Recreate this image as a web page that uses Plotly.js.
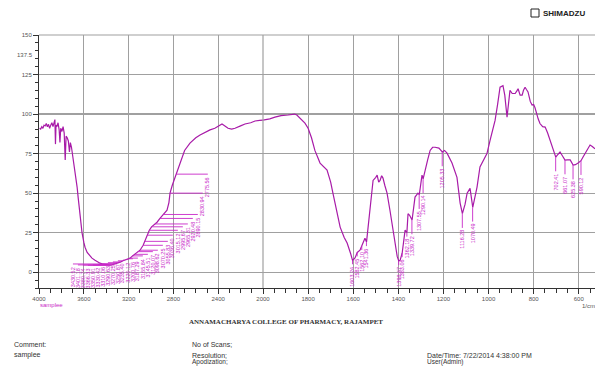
<!DOCTYPE html>
<html><head><meta charset="utf-8">
<script src="https://cdn.plot.ly/plotly-3.0.1.min.js"></script>
<style>html,body{margin:0;padding:0;background:#fff;overflow:hidden}#chart{width:595px;height:366px}</style>
</head><body><div id="chart"></div>
<script>
// ---- spectrum data (wavenumber in 1/cm, %T) ----
const wavenumber = [3995,3985,3975,3965,3955,3945,3935,3925,3915,3905,3895,3885,3875,3865,3858,3853,3848,3840,3830,3820,3813,3806,3795,3785,3775,3766,3758,3748,3738,3728,3720,3710,3700,3690,3680,3670,3660,3650,3640,3630,3616,3600,3589,3570,3550,3527,3500,3480,3455,3430,3400,3380,3366,3350,3330,3310,3290,3270,3250,3235,3220,3200,3187,3165,3145,3120,3098,3070,3055,3036,3015,2995,2965,2946,2920,2890,2857,2840,2830,2810,2790,2775,2760,2741,2700,2652,2600,2562,2520,2473,2430,2402,2366,2340,2312,2280,2250,2200,2161,2110,2071,2030,2000,1970,1947,1920,1889,1860,1850,1836,1814,1800,1785,1770,1747,1716,1700,1690,1675,1658,1640,1627,1612,1603,1592,1582,1570,1562,1548,1541,1525,1512,1500,1494,1487,1481,1474,1468,1460,1450,1437,1425,1415,1405,1398,1392,1383,1370,1362,1357,1350,1339,1326,1313,1307,1295,1290,1282,1270,1259,1248,1237,1220,1205,1195,1184,1162,1140,1126,1116,1104,1095,1082,1070,1060,1051,1038,1020,1007,993,971,960,949,936,928,918,912,905,895,882,875,869,860,851,845,838,832,825,815,807,800,794,780,772,760,749,738,727,715,702,695,683,672,661,650,638,625,615,603,590,581,565,550,540,528];
const transmittance = [91,90.5,92,91,93,92.5,94,92,93.5,91,93,94.5,92,95,96.5,81,93,92,94.5,90,82,91,89,92,88,71,86,85,83,76,82,79,74,71,67,60,54,47,40,33,25,19,15.8,12.5,10.5,8.9,7.5,6.5,5.7,5.2,4.6,4.5,4.4,4.6,5.0,5.4,6.0,6.5,7.2,7.6,8.0,8.5,8.9,10.3,11.3,13.0,13.9,17.0,19.5,23.4,26.5,28.7,30.5,31.6,34.0,36.5,39.2,44,50,55,59,62,65,70,77,81.6,85,86.7,88.5,90,91,92,93.7,92.5,91,90.5,91,92.5,93.7,94.5,95.6,96,96.2,97,98.1,99,99.4,100,99.4,97.5,94.3,91,85,77,69,64.6,57,50,40,28.5,22,18.4,12,7.5,9,12.5,13.9,16.5,21.5,19,39,58,60,61.4,57,58,61,59.5,55,50,39,28,20,10,7,7.6,12,26.6,25,37,36,33,47.5,50,49,61.4,59,64.6,71,77,79,79,78.5,76,77,75.3,69,60,43.7,37,43,50,53,41,48,53.8,66.5,71,75,83.5,96,106,117,118,112,98,108,115,113,113,114.5,116,112,112,115,117,115.5,114,108,105.7,106,104,97,94,92,91.8,88,83.5,78,72.8,74,76,73.5,70.9,71,71,67.7,68,69,70.5,72.8,77,80.4,79.5,78];

// ---- peak picks ----
const densePeakWn = [3430.52,3401.18,3380.74,3366.33,3350.91,3330.42,3310.06,3290.63,3270.25,3250.87,3235.40,3220.12,3200.76,3187.29,3165.84,3145.51,3120.07,3098.62,3070.25,3055.83,3036.40,3015.12,2995.67,2965.31,2920.48,2890.15,2830.94,2775.56];
const densePeakT  = [5.2,4.6,4.5,4.4,4.6,5.0,5.4,6.0,6.5,7.2,7.6,8.0,8.5,8.9,10.3,11.3,13.0,13.9,17.0,19.5,23.4,26.5,28.7,30.5,34.0,36.5,50,62];
const sparsePeakWn = [1603.24,1582.45,1562.10,1541.36,1398.47,1383.06,1362.18,1339.72,1307.55,1290.14,1205.33,1116.28,1070.49,702.41,661.07,625.38,590.12];
const sparsePeakT  = [7.5,12.5,16.5,19,7,12,25,33,49,59,76,37,41,72.8,70.9,67.7,70.5];

// ---- axis ticks ----
const xTicksHigh = [4000,3600,3200,2800,2400,2000];
const xTicksLow = [1800,1600,1400,1200,1000,800,600];
const yTicks = [0,25,50,75,100,125,150];

// ---- layout geometry ----
const W = 595, H = 366, ML = 39, MR = 0, MT = 35, MB = 78;
const PW = W - ML - MR, PH = H - MT - MB;
const split = 224 / PW;
const px = x => (x - ML) / PW;
const py = y => (H - MB - y) / PH;

const curveColor = '#a81ba8';
const labelColor = '#c828c8';
const gridColor = '#a0a0a0';

const hiX = [], hiY = [], loX = [], loY = [];
wavenumber.forEach((w, i) => {
  if (w >= 2000) { hiX.push(w); hiY.push(transmittance[i]); }
  if (w <= 2000) { loX.push(w); loY.push(transmittance[i]); }
});

const traces = [
  {x: hiX, y: hiY, xaxis: 'x', yaxis: 'y', mode: 'lines', line: {color: curveColor, width: 1.2}, hoverinfo: 'skip', showlegend: false},
  {x: loX, y: loY, xaxis: 'x2', yaxis: 'y', mode: 'lines', line: {color: curveColor, width: 1.2}, hoverinfo: 'skip', showlegend: false}
];

const shapes = [];
const annotations = [];
const lblFont = {family: 'Liberation Sans, Arial, sans-serif', size: 5.5, color: labelColor};

// dense peak labels: columns stepping right, leader drawn horizontally
densePeakWn.forEach((w, i) => {
  const t = densePeakT[i];
  const col = 3697 - i * 44.6;
  shapes.push({type: 'line', xref: 'x', yref: 'y', x0: w, x1: col, y0: t, y1: t, line: {color: labelColor, width: 0.9}});
  annotations.push({xref: 'x', yref: 'y', x: col, y: t - 0.8, text: w.toFixed(2), textangle: -90, xanchor: 'center', yanchor: 'top', showarrow: false, font: lblFont});
});
// sparse peak labels: hang below the peak
sparsePeakWn.forEach((w, i) => {
  const t = sparsePeakT[i];
  const drop = t >= 30 ? 9 : 2.5;
  shapes.push({type: 'line', xref: 'x2', yref: 'y', x0: w, x1: w, y0: t, y1: t - drop, line: {color: labelColor, width: 0.9}});
  annotations.push({xref: 'x2', yref: 'y', x: w, y: t - drop, text: w.toFixed(2), textangle: -90, xanchor: 'center', yanchor: 'top', showarrow: false, font: lblFont});
});

// frame lines
shapes.push({type: 'line', xref: 'paper', yref: 'paper', x0: 0, x1: 1, y0: 1, y1: 1, line: {color: gridColor, width: 1.2}});
shapes.push({type: 'line', xref: 'paper', yref: 'paper', x0: split, x1: split, y0: 0, y1: 1, line: {color: gridColor, width: 1.2}});
// logo box
shapes.push({type: 'rect', xref: 'paper', yref: 'paper', x0: px(531), x1: px(539), y0: py(17), y1: py(9), line: {color: '#222', width: 1}, fillcolor: '#fff'});

function note(text, x, y, opt) {
  annotations.push(Object.assign({xref: 'paper', yref: 'paper', x: px(x), y: py(y), text: text, showarrow: false,
    xanchor: 'left', yanchor: 'middle', font: {family: 'Liberation Sans, Arial, sans-serif', size: 7, color: '#333'}}, opt || {}));
}
note('137.5', 35, 55, {xanchor: 'right', font: {family: 'Liberation Sans, Arial, sans-serif', size: 6, color: '#555'}});
note('<b>SHIMADZU</b>', 541, 13, {font: {family: 'Liberation Sans, Arial, sans-serif', size: 8, color: '#222'}});
note('samplee', 38, 305, {font: {family: 'Liberation Sans, Arial, sans-serif', size: 6, color: labelColor}});
note('1/cm', 580, 306, {font: {family: 'Liberation Sans, Arial, sans-serif', size: 6, color: '#555'}});
note('<b>ANNAMACHARYA COLLEGE OF PHARMACY, RAJAMPET</b>', 286, 322, {xanchor: 'center', font: {family: 'Liberation Serif, Times New Roman, serif', size: 7, color: '#333'}});
note('Comment:', 12, 344);
note('samplee', 12, 355);
note('No of Scans;', 190, 344);
note('Resolution;', 190, 355);
note('Apodization;', 190, 362, {font: {family: 'Liberation Sans, Arial, sans-serif', size: 6.5, color: '#333'}});
note('Date/Time: 7/22/2014 4:38:00 PM', 425, 355);
note('User(Admin)', 425, 362, {font: {family: 'Liberation Sans, Arial, sans-serif', size: 6.5, color: '#333'}});

const tickFont = {family: 'Liberation Sans, Arial, sans-serif', size: 6, color: '#555'};
const baseX = {
  showline: true, linecolor: '#333', linewidth: 1, zeroline: false,
  showgrid: true, gridcolor: gridColor, gridwidth: 1.2,
  ticks: 'outside', ticklen: 5, tickcolor: '#333', tickfont: tickFont,
  tickmode: 'array', anchor: 'y', fixedrange: true
};
const layout = {
  width: W, height: H,
  margin: {l: ML, r: MR, t: MT, b: MB, pad: 0},
  paper_bgcolor: '#fff', plot_bgcolor: '#fff',
  showlegend: false,
  xaxis: Object.assign({}, baseX, {domain: [0, split], range: [4000, 2000], tickvals: xTicksHigh, ticktext: xTicksHigh.map(String),
    minor: {dtick: 100, tick0: 0, ticks: 'outside', ticklen: 4, tickcolor: '#333', showgrid: false}}),
  xaxis2: Object.assign({}, baseX, {domain: [split, 1], range: [2000, 528], tickvals: xTicksLow, ticktext: xTicksLow.map(String),
    minor: {dtick: 50, tick0: 0, ticks: 'outside', ticklen: 4, tickcolor: '#333', showgrid: false}}),
  yaxis: {
    range: [-10, 150], tickmode: 'array', tickvals: yTicks, ticktext: yTicks.map(String),
    showline: true, linecolor: '#333', linewidth: 1, zeroline: false,
    showgrid: true, gridcolor: gridColor, gridwidth: 1.2,
    ticks: 'outside', ticklen: 5, tickcolor: '#333', tickfont: tickFont, fixedrange: true,
    minor: {dtick: 5, tick0: 0, ticks: 'outside', ticklen: 3, tickcolor: '#333', showgrid: false}
  },
  shapes: shapes,
  annotations: annotations
};
Plotly.newPlot('chart', traces, layout, {staticPlot: true, displayModeBar: false});
</script>
</body></html>
